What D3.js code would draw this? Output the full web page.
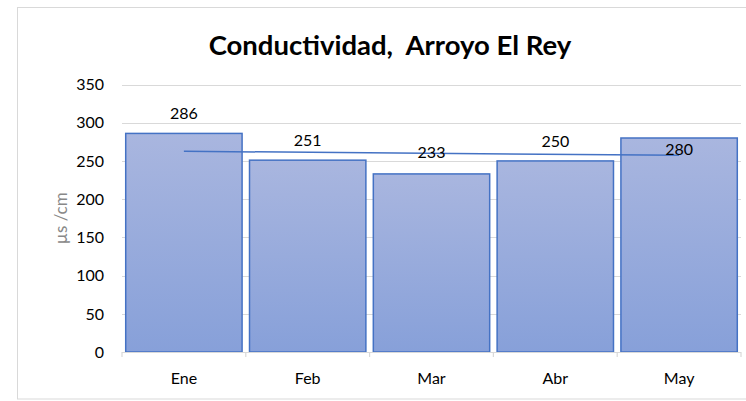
<!DOCTYPE html>
<meta charset="utf-8">
<style>
body { margin: 0; background: #fff; }
text { font-family: Lato, "Liberation Sans", sans-serif; white-space: pre; }
</style>
<body>
<script src="https://d3js.org/d3.v7.min.js"></script>
<script>

var months = ["Ene", "Feb", "Mar", "Abr", "May"];
var conductividad = [286, 251, 233, 250, 280];
var yTicks = [0, 50, 100, 150, 200, 250, 300, 350];
var titulo = "Conductividad,  Arroyo El Rey";
var unidad = "\u00b5s /cm";

var width = 746,
    height = 401,
    plotLeft = 122,
    plotRight = 741,
    plotTop = 84.5,
    plotBottom = 352;

var svg = d3.select("body").append("svg")
    .attr("width", width)
    .attr("height", height);

var defs = svg.append("defs");
var grad = defs.append("linearGradient")
    .attr("id", "barfill")
    .attr("x1", 0).attr("y1", 0).attr("x2", 0).attr("y2", 1);
grad.append("stop").attr("offset", "0%").attr("stop-color", "#a9b6df");
grad.append("stop").attr("offset", "100%").attr("stop-color", "#87a0d9");

// chart frame
svg.append("rect")
    .attr("x", 17.5).attr("y", 7.5)
    .attr("width", 740).attr("height", 391.5)
    .attr("fill", "#fff")
    .attr("stroke", "#d9d9d9");

var x = d3.scaleBand()
    .domain(months)
    .range([plotLeft, plotRight])
    .paddingInner(0.06)
    .paddingOuter(0.03);

var y = d3.scaleLinear()
    .domain([0, 350])
    .range([plotBottom, plotTop]);

// gridlines
svg.append("g")
    .selectAll("line")
    .data(yTicks.slice(1))
    .enter().append("line")
    .attr("x1", plotLeft).attr("x2", plotRight)
    .attr("y1", function(d) { return Math.round(y(d)) + 0.5; })
    .attr("y2", function(d) { return Math.round(y(d)) + 0.5; })
    .attr("stroke", "#d9d9d9")
    .attr("stroke-width", 1.2);

// y tick labels
svg.append("g")
    .selectAll("text")
    .data(yTicks)
    .enter().append("text")
    .attr("x", 104)
    .attr("y", function(d) { return y(d); })
    .attr("dy", "0.36em")
    .attr("text-anchor", "end")
    .attr("font-size", 16)
    .attr("fill", "#000")
    .text(function(d) { return d; });

// bars
svg.append("g")
    .selectAll("rect")
    .data(conductividad)
    .enter().append("rect")
    .attr("x", function(d, i) { return x(months[i]); })
    .attr("y", function(d) { return y(d); })
    .attr("width", x.bandwidth())
    .attr("height", function(d) { return y(0) - y(d); })
    .attr("fill", "url(#barfill)")
    .attr("stroke", "#4472c4")
    .attr("stroke-width", 1.5);

// category axis
var step = x.step();
var bounds = d3.range(months.length + 1).map(function(i) { return plotLeft + i * step; });
svg.append("line")
    .attr("x1", plotLeft).attr("x2", plotRight)
    .attr("y1", plotBottom + 0.5).attr("y2", plotBottom + 0.5)
    .attr("stroke", "#d9d9d9")
    .attr("stroke-width", 1.2);
svg.append("g")
    .selectAll("line")
    .data(bounds)
    .enter().append("line")
    .attr("x1", function(d) { return d; })
    .attr("x2", function(d) { return d; })
    .attr("y1", plotBottom).attr("y2", plotBottom + 5)
    .attr("stroke", "#d9d9d9")
    .attr("stroke-width", 1.2);

svg.append("g")
    .selectAll("text")
    .data(months)
    .enter().append("text")
    .attr("x", function(d) { return x(d) + x.bandwidth() / 2; })
    .attr("y", 384)
    .attr("text-anchor", "middle")
    .attr("font-size", 16)
    .attr("fill", "#000")
    .text(function(d) { return d; });

// linear trend line (least squares over the months)
var n = conductividad.length,
    mx = d3.mean(d3.range(n)),
    my = d3.mean(conductividad),
    slope = d3.sum(conductividad, function(v, i) { return (i - mx) * (v - my); }) /
            d3.sum(d3.range(n), function(i) { return (i - mx) * (i - mx); });
var trend = d3.range(n).map(function(i) { return my + slope * (i - mx); });

svg.append("line")
    .attr("x1", x(months[0]) + x.bandwidth() / 2)
    .attr("x2", x(months[n - 1]) + x.bandwidth() / 2)
    .attr("y1", y(trend[0]))
    .attr("y2", y(trend[n - 1]))
    .attr("stroke", "#4472c4")
    .attr("stroke-width", 1.5);

// data labels (the last one sits inside its bar, as in the original)
var labelShift = { Mar: -2, May: 31 };
svg.append("g")
    .selectAll("text")
    .data(conductividad)
    .enter().append("text")
    .attr("x", function(d, i) { return x(months[i]) + x.bandwidth() / 2; })
    .attr("y", function(d, i) { return y(d) - 14 + (labelShift[months[i]] || 0); })
    .attr("text-anchor", "middle")
    .attr("font-size", 16)
    .attr("fill", "#000")
    .text(function(d) { return d; });

// title
svg.append("text")
    .attr("x", 390)
    .attr("y", 55)
    .attr("text-anchor", "middle")
    .attr("font-size", 27.5)
    .attr("font-weight", "bold")
    .attr("fill", "#000")
    .text(titulo);

// axis title
svg.append("text")
    .attr("transform", "translate(67," + ((plotTop + plotBottom) / 2) + ") rotate(-90)")
    .attr("text-anchor", "middle")
    .attr("font-size", 17)
    .attr("fill", "#888")
    .text(unidad);

</script>
